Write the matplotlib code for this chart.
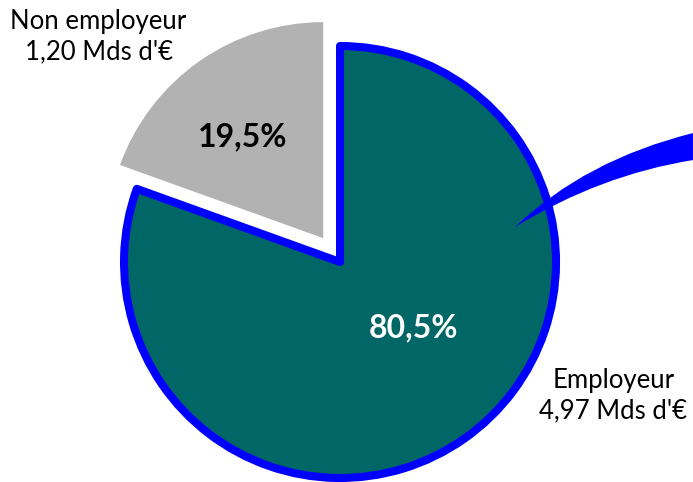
#!/usr/bin/env python3
"""Pie chart: employeur vs non employeur."""

import matplotlib
matplotlib.use("Agg")
import matplotlib.pyplot as plt
from matplotlib.path import Path
from matplotlib.patches import PathPatch

categories = ["Employeur", "Non employeur"]
amounts = ["4,97", "1,20"]
shares = [80.5, 19.5]
colors = ["#006666", "#B2B2B2"]

plt.rcParams["font.family"] = ["Lato", "DejaVu Sans"]

fig = plt.figure(figsize=(6.93, 4.82), dpi=100)
ax = fig.add_axes([0, 0, 1, 1])

wedges, _ = ax.pie(
    shares,
    colors=colors,
    startangle=90,
    counterclock=False,
    explode=[0, 0.135],
    radius=1.0,
)
wedges[0].set_edgecolor("#0000FF")
wedges[0].set_linewidth(5.8)
wedges[0].set_joinstyle("round")
wedges[1].set_edgecolor("none")

# tapered blue callout shape crossing the right edge
verts = [
    (0.810, 0.162), (1.134, 0.472), (1.634, 0.597),
    (1.634, 0.472), (1.204, 0.403), (0.810, 0.162), (0.810, 0.162),
]
codes = [Path.MOVETO, Path.CURVE3, Path.CURVE3,
         Path.LINETO, Path.CURVE3, Path.CURVE3, Path.CLOSEPOLY]
ax.add_patch(PathPatch(Path(verts, codes), facecolor="#0000FF",
                       edgecolor="none", zorder=3))

pct = [f"{v:.1f}".replace(".", ",") + "%" for v in shares]
ax.text(0.338, -0.306, pct[0], color="white", fontsize=23,
        fontweight="bold", ha="center", va="center")
ax.text(-0.449, 0.579, pct[1], color="black", fontsize=23,
        fontweight="bold", ha="center", va="center")

ax.text(1.266, -0.62, f"{categories[0]}\n{amounts[0]} Mds d'€",
        fontsize=18.5, ha="center", va="center", linespacing=1.25)
ax.text(-1.118, 1.042, f"{categories[1]}\n{amounts[1]} Mds d'€",
        fontsize=18.5, ha="center", va="center", linespacing=1.25)

ax.set_aspect("equal")
ax.set_xlim(-1.574, 1.634)
ax.set_ylim(-1.0185, 1.213)
ax.axis("off")

fig.savefig("out.png", dpi=100)
